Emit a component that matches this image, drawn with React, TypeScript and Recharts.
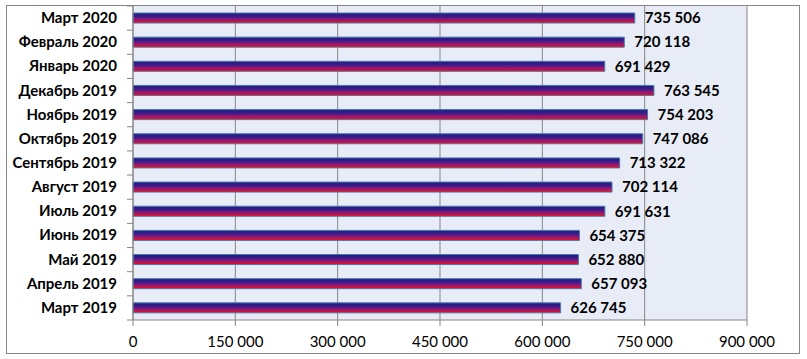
import React from "react";
import { BarChart, Bar, XAxis, YAxis, CartesianGrid, LabelList } from "recharts";

const months = [
  "Март 2020",
  "Февраль 2020",
  "Январь 2020",
  "Декабрь 2019",
  "Ноябрь 2019",
  "Октябрь 2019",
  "Сентябрь 2019",
  "Август 2019",
  "Июль 2019",
  "Июнь 2019",
  "Май 2019",
  "Апрель 2019",
  "Март 2019",
];
const values = [735506, 720118, 691429, 763545, 754203, 747086, 713322, 702114, 691631, 654375, 652880, 657093, 626745];
const xTicks = [0, 150000, 300000, 450000, 600000, 750000, 900000];

const data = months.map((m, i) => ({ month: m, value: values[i] }));

const fmt = (v: number) => String(Math.round(v)).replace(/\B(?=(\d{3})+(?!\d))/g, " ");

const W = 807;
const H = 359;
const TOP = 6;
const X_AXIS_H = 39;
const bandH = (H - TOP - X_AXIS_H) / months.length;

const FONT = "Lato, 'Open Sans', sans-serif";
const AXIS = "#868686";

// category label + tick marks at the band boundaries (Excel style)
const CategoryTick = (props: any) => {
  const { x, y, payload, index } = props;
  return (
    <g>
      <text x={x - 16} y={y} dy={5} textAnchor="end" fontFamily={FONT} fontWeight={700} fontSize={15} fill="#000">
        {payload.value}
      </text>
      {index === 0 && <line x1={x - 6} x2={x} y1={y - bandH / 2} y2={y - bandH / 2} stroke={AXIS} />}
      <line x1={x - 6} x2={x} y1={y + bandH / 2} y2={y + bandH / 2} stroke={AXIS} />
    </g>
  );
};

export default function App() {
  return (
    <div style={{ position: "absolute", left: 0, top: 0, width: W, height: H, background: "#fff" }}>
      <div
        style={{
          position: "absolute",
          left: 6,
          top: 5,
          width: 794,
          height: 349,
          border: `1px solid ${AXIS}`,
          boxSizing: "border-box",
        }}
      />
      <BarChart
        width={W}
        height={H}
        data={data}
        layout="vertical"
        margin={{ top: TOP, right: 60, left: 0, bottom: 0 }}
        barCategoryGap={0}
        style={{ position: "absolute", left: 0, top: 0 }}
      >
        <defs>
          <linearGradient id="barGrad" x1="0" y1="0" x2="0" y2="1">
            <stop offset="0%" stopColor="#1c1c86" />
            <stop offset="35%" stopColor="#3a1c88" />
            <stop offset="65%" stopColor="#8a1a7a" />
            <stop offset="85%" stopColor="#d0103a" />
            <stop offset="100%" stopColor="#ff0000" />
          </linearGradient>
        </defs>
        <CartesianGrid horizontal={false} stroke={AXIS} fill="#e8ecf6" fillOpacity={1} />
        <XAxis
          type="number"
          domain={[0, 900000]}
          ticks={xTicks}
          tickFormatter={fmt}
          height={X_AXIS_H}
          stroke={AXIS}
          tickSize={6}
          tick={{ fontFamily: FONT, fontSize: 15, fill: "#000" }}
          tickMargin={10}
          interval={0}
        />
        <YAxis
          type="category"
          dataKey="month"
          width={133}
          stroke={AXIS}
          tickLine={false}
          tickSize={0}
          tickMargin={0}
          tick={<CategoryTick />}
          interval={0}
        />
        <Bar dataKey="value" fill="url(#barGrad)" stroke="#4a78a8" strokeWidth={1} barSize={10} isAnimationActive={false}>
          <LabelList
            dataKey="value"
            position="right"
            offset={10}
            formatter={(v: any) => fmt(Number(v))}
            style={{ fontFamily: FONT, fontWeight: 700, fontSize: 15, fill: "#000" }}
          />
        </Bar>
      </BarChart>
    </div>
  );
}
